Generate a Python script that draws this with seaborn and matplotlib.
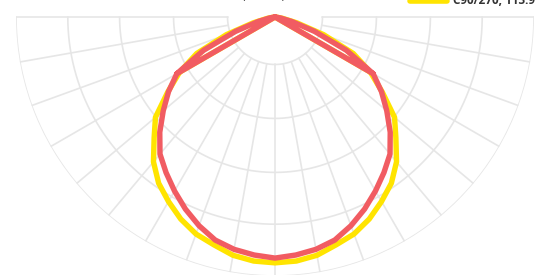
import numpy as np
import pandas as pd
import matplotlib
matplotlib.use('Agg')
import matplotlib.pyplot as plt
import seaborn as sns
from matplotlib.lines import Line2D

# gamma angles (deg) and intensities (cd/klm), symmetric halves
gamma = [0, 5, 10, 15, 20, 25, 30, 35, 40, 45, 50, 55, 60, 65, 70, 75, 80, 85, 90]
c0_180 = [111.7, 110.7, 109.3, 107.0, 102.9, 98.2, 93.1, 88.0, 82.9, 75.5,
          67.6, 60.2, 52.5, 36.5, 19.5, 8.0, 2.5, 0.5, 0.0]
c90_270 = [113.9, 113.5, 112.1, 109.3, 107.0, 103.3, 98.7, 94.0, 87.6, 79.2,
           72.3, 60.7, 51.0, 40.0, 24.0, 10.5, 3.5, 0.5, 0.0]
rings = [22, 47, 72, 96, 120]
legend_label = 'C90/270, 113.9'
unit_label = '(cd/klm)'


def path(values):
    # order of the drawn polyline: lens point -> centre -> outer arc -> bottom -> other side
    k = gamma.index(60)
    th, r = [], []
    th += [-60, -90]; r += [values[k], 0.0]
    for g, v in zip(gamma[::-1], values[::-1]):
        if g < 90:
            th.append(-g); r.append(v)
    for g, v in zip(gamma[1:], values[1:]):
        th.append(g); r.append(v)
    th.append(60); r.append(values[k])
    return pd.DataFrame({'theta': np.radians(th), 'r': r})


df_yel = path(c90_270)
df_red = path(c0_180)

sns.set_style('white')
fig = plt.figure(figsize=(5.46, 2.75), dpi=100)
ax = fig.add_axes([16/546, -1/275, 518/546, 518/275], projection='polar')
ax.set_theta_zero_location('S')
ax.set_ylim(0, 120)
ax.grid(False)
ax.spines['polar'].set_visible(False)
ax.set_xticks([])
ax.set_yticks([])

gc = '#e6e6e6'
t = np.radians(np.linspace(-90, 90, 200))
for rr in rings:
    ax.plot(t, np.full_like(t, rr), color=gc, lw=1.2, zorder=1)
for a in range(-90, 91, 10):
    ax.plot([np.radians(a)] * 2, [rings[0], rings[-1]], color=gc, lw=1.2, zorder=1)

sns.lineplot(data=df_yel, x='theta', y='r', sort=False, estimator=None, ax=ax,
             color='#ffe400', lw=3.9, legend=False, zorder=3)
sns.lineplot(data=df_red, x='theta', y='r', sort=False, estimator=None, ax=ax,
             color='#f15c62', lw=3.9, legend=False, zorder=4)
ax.set_xlabel('')
ax.set_ylabel('')

# legend / title cut at the top edge
fig.add_artist(Line2D([410/546, 447/546], [1 - 0.5/275] * 2, color='#ffe400', lw=4,
                      transform=fig.transFigure))
fig.text(535/546, 1 - 4/275, legend_label, ha='right', va='baseline',
         fontsize=8.5, fontweight='bold', color='#333333', family='Open Sans')
fig.text(264/546, 1 + 1/275, unit_label, ha='center', va='baseline',
         fontsize=8.5, color='#333333', family='Open Sans')

plt.savefig('out.png', dpi=100)
